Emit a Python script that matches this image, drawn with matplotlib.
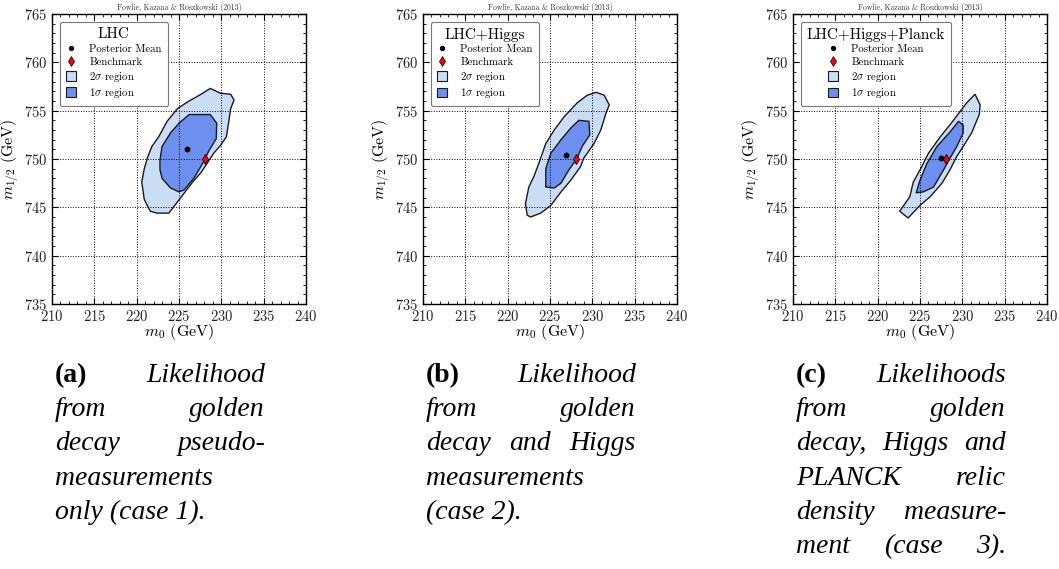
import matplotlib
matplotlib.use("Agg")
import matplotlib.pyplot as plt
from matplotlib.patches import Patch
from matplotlib.lines import Line2D
from matplotlib.ticker import MultipleLocator

# ---------------------------------------------------------------- data
# Posterior contours in the (m0, m1/2) plane, GeV, for the three likelihood cases.
lhc_2s_m0 = [228.7, 229.9, 231.1, 231.5, 231.1, 230.9, 230.6, 229.9, 229.1, 228.5,
             227.6, 226.6, 225.2, 223.8, 222.4, 221.6, 220.9, 220.6, 220.9, 221.3,
             221.8, 222.6, 223.6, 224.8, 226.0, 227.6]
lhc_2s_m12 = [757.3, 756.8, 756.7, 756.1, 755.2, 754.0, 752.3, 751.4, 750.6, 749.8,
              748.6, 747.6, 746.0, 744.4, 744.4, 744.6, 745.8, 747.6, 749.0, 750.2,
              751.3, 752.3, 753.9, 755.2, 755.9, 756.7]
lhc_1s_m0 = [226.2, 228.7, 229.45, 229.4, 228.5, 227.9, 226.75, 225.6, 225.0, 224.0,
             223.0, 222.75, 222.75, 223.0, 224.0, 225.0]
lhc_1s_m12 = [754.6, 754.6, 753.7, 752.1, 750.8, 749.7, 748.0, 746.8, 746.6, 747.0,
              748.0, 748.9, 749.9, 751.3, 752.7, 753.7]

higgs_2s_m0 = [230.45, 231.4, 232.0, 231.6, 231.0, 230.2, 229.0, 228.6, 227.45, 226.3,
               225.1, 223.9, 222.7, 222.3, 222.1, 222.5, 223.1, 223.7, 224.5, 225.5,
               226.7, 228.2, 229.4]
higgs_2s_m12 = [756.9, 756.6, 755.6, 754.7, 753.0, 751.6, 750.1, 749.2, 747.8, 746.6,
                745.2, 744.4, 744.0, 744.2, 745.4, 747.1, 748.2, 749.6, 751.6, 753.0,
                754.4, 755.8, 756.6]
higgs_1s_m0 = [228.4, 229.6, 229.7, 228.8, 228.15, 227.25, 226.3, 225.5, 224.5, 224.5,
               225.1, 226.3, 227.45]
higgs_1s_m12 = [754.0, 753.9, 752.5, 751.3, 750.0, 748.9, 747.5, 747.0, 747.1, 749.0,
                750.6, 752.0, 753.2]

planck_2s_m0 = [231.5, 232.1, 232.0, 231.1, 230.1, 229.3, 228.55, 227.6, 226.2, 225.0,
                223.6, 222.6, 223.8, 224.2, 225.2, 226.0, 227.4, 228.95, 230.5]
planck_2s_m12 = [756.7, 755.6, 754.6, 752.7, 751.3, 750.2, 748.9, 747.5, 746.1, 745.2,
                 743.9, 744.6, 746.1, 747.6, 749.2, 750.6, 752.3, 754.0, 755.8]
planck_1s_m0 = [229.55, 230.1, 230.1, 229.35, 228.55, 227.8, 226.6, 225.4, 224.55, 225.0,
                225.8, 227.0, 228.55]
planck_1s_m12 = [753.9, 753.5, 752.7, 751.3, 750.1, 748.9, 747.1, 746.6, 746.5, 747.8,
                 749.5, 751.3, 752.8]

posterior_mean_m0 = [225.9, 226.9, 227.5]
posterior_mean_m12 = [751.0, 750.45, 750.1]
benchmark_m0 = 228.1
benchmark_m12 = 750.0

panel_titles = ["LHC", "LHC+Higgs", "LHC+Higgs+Planck"]
x_ticks = [210, 215, 220, 225, 230, 235, 240]
y_ticks = [735, 740, 745, 750, 755, 760, 765]

captions = [
    ("(a)", [["Likelihood"], ["from", "golden"], ["decay", "pseudo-"],
             ["measurements"], ["only (case 1)."]], [True, True, True, False, False]),
    ("(b)", [["Likelihood"], ["from", "golden"], ["decay", "and", "Higgs"],
             ["measurements"], ["(case 2)."]], [True, True, True, False, False]),
    ("(c)", [["Likelihoods"], ["from", "golden"], ["decay,", "Higgs", "and"],
             ["PLANCK", "relic"], ["density", "measure-"], ["ment", "(case", "3)."]],
     [True, True, True, True, True, True]),
]

contours = [
    ((lhc_2s_m0, lhc_2s_m12), (lhc_1s_m0, lhc_1s_m12)),
    ((higgs_2s_m0, higgs_2s_m12), (higgs_1s_m0, higgs_1s_m12)),
    ((planck_2s_m0, planck_2s_m12), (planck_1s_m0, planck_1s_m12)),
]

# ---------------------------------------------------------------- style
plt.rcParams.update({
    "font.family": "serif",
    "font.serif": ["cmr10", "DejaVu Serif"],
    "mathtext.fontset": "cm",
    "axes.formatter.use_mathtext": True,
    "axes.unicode_minus": False,
    "xtick.direction": "in",
    "ytick.direction": "in",
    "xtick.top": True,
    "ytick.right": True,
    "xtick.major.size": 4,
    "ytick.major.size": 4,
    "xtick.minor.size": 2,
    "ytick.minor.size": 2,
    "xtick.labelsize": 10.5,
    "ytick.labelsize": 10.5,
    "axes.linewidth": 1.0,
})

LIGHT = "#cbdcf5"
DARK = "#6c8ff0"
EDGE = "#1a1a1a"

W, H = 1059, 569
fig = plt.figure(figsize=(W / 100, H / 100), dpi=100)

ax_left_px = [52, 423, 793]
ax_w_px, ax_top_px, ax_bot_px = 254, 14, 304

for i in range(3):
    ax = fig.add_axes([ax_left_px[i] / W, 1 - ax_bot_px / H,
                       ax_w_px / W, (ax_bot_px - ax_top_px) / H])
    (o_x, o_y), (i_x, i_y) = contours[i]
    ax.fill(o_x, o_y, facecolor=LIGHT, edgecolor=EDGE, linewidth=1.0)
    ax.fill(i_x, i_y, facecolor=DARK, edgecolor=EDGE, linewidth=1.0)
    ax.plot(posterior_mean_m0[i], posterior_mean_m12[i], "o", color="k",
            markersize=3.2, zorder=5)
    ax.plot(benchmark_m0, benchmark_m12, "d", markerfacecolor="red",
            markeredgecolor="k", markeredgewidth=0.6, markersize=5, zorder=6)

    ax.set_xlim(x_ticks[0], x_ticks[-1])
    ax.set_ylim(y_ticks[0], y_ticks[-1])
    ax.set_xticks(x_ticks)
    ax.set_yticks(y_ticks)
    ax.xaxis.set_minor_locator(MultipleLocator(1))
    ax.yaxis.set_minor_locator(MultipleLocator(1))
    ax.tick_params(which="both", colors="k", labelcolor="#222222")
    ax.tick_params(axis="x", pad=3.5)
    ax.grid(True, which="major", linestyle=":", color="k", linewidth=0.7)

    ax.set_xlabel(r"$m_0$ (GeV)", fontsize=11.5, labelpad=-1.5)
    ax.set_ylabel(r"$m_{1/2}$ (GeV)", fontsize=11.5, labelpad=2)
    ax.set_title("Fowlie, Kazana & Roszkowski (2013)", fontsize=5.5, pad=3,
                 color="#333333")

    handles = [
        Line2D([], [], marker="o", color="k", linestyle="none", markersize=2.8),
        Line2D([], [], marker="d", markerfacecolor="red", markeredgecolor="k",
               markeredgewidth=0.5, linestyle="none", markersize=5),
        Patch(facecolor=LIGHT, edgecolor=EDGE, linewidth=0.8),
        Patch(facecolor=DARK, edgecolor=EDGE, linewidth=0.8),
    ]
    labels = ["Posterior Mean", "Benchmark", r"$2\sigma$ region", r"$1\sigma$ region"]
    leg = ax.legend(handles, labels, loc="upper left", title=panel_titles[i],
                    fontsize=7.8, title_fontsize=11, fancybox=True, framealpha=1,
                    edgecolor="#777777", borderaxespad=0.7, labelspacing=0.22,
                    handlelength=1.0, handleheight=1.0, handletextpad=1.2,
                    borderpad=0.55)
    leg.get_frame().set_linewidth(0.8)

# ---------------------------------------------------------------- captions
renderer = fig.canvas.get_renderer()
cap_font = dict(family="Liberation Serif", fontsize=20)
col_left_px = [55, 426, 796]
col_w_px = 210
base0_px, step_px = 382, 34.2

for c, (label, lines, justify) in enumerate(captions):
    x0 = col_left_px[c]
    for li, words in enumerate(lines):
        y = 1 - (base0_px + li * step_px) / H
        items = []
        if li == 0:
            items.append(fig.text(0, y, label, fontweight="bold", va="baseline",
                                  ha="left", **cap_font))
        for w_ in words:
            items.append(fig.text(0, y, w_, style="italic", va="baseline",
                                  ha="left", **cap_font))
        widths = [t.get_window_extent(renderer).width for t in items]
        if justify[li] and len(items) > 1:
            gap = (col_w_px - sum(widths)) / (len(items) - 1)
        else:
            gap = 0
        x = x0
        for t, wd in zip(items, widths):
            t.set_x(x / W)
            x += wd + gap

fig.savefig("out.png", dpi=100)
